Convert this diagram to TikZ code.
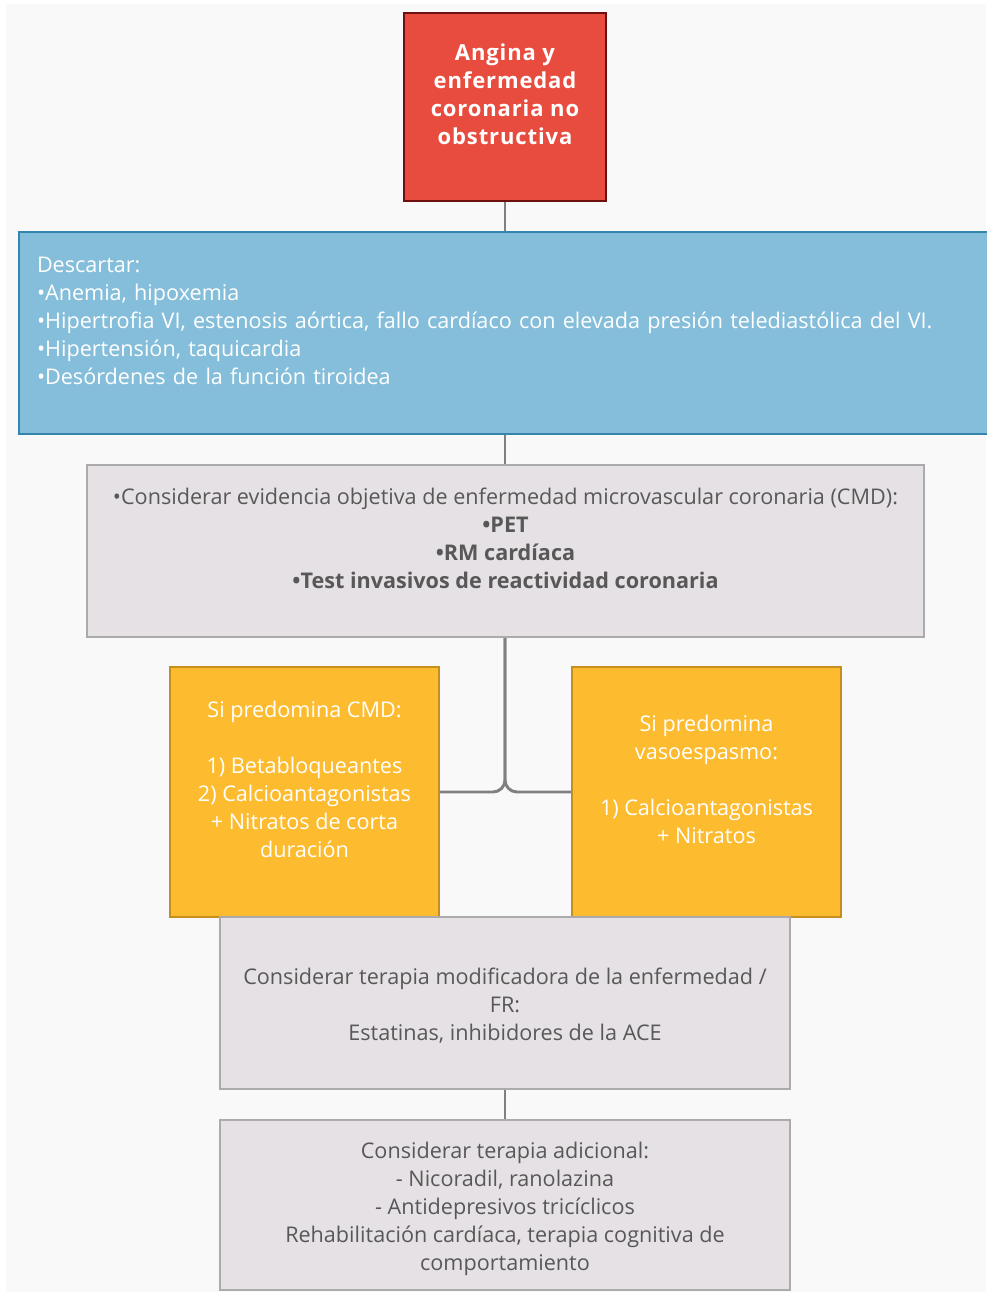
\documentclass[tikz,border=0pt]{standalone}
\usepackage{fontspec}
\setmainfont{Open Sans}
\newfontfamily\titlefont[LetterSpace=4]{Open Sans}
\newcommand\tpad{\rule{0pt}{21.5pt}}
\newcommand\bpad{\rule[-7pt]{0pt}{7pt}}
\definecolor{bgc}{HTML}{F9F9F9}
\definecolor{redf}{HTML}{E74C3E}
\definecolor{redd}{HTML}{6E1010}
\definecolor{bluef}{HTML}{85BEDA}
\definecolor{blued}{HTML}{3485AD}
\definecolor{yelf}{HTML}{FDBC30}
\definecolor{yeld}{HTML}{C48F1C}
\definecolor{grayf}{HTML}{E6E1E4}
\definecolor{grayd}{HTML}{ABABAB}
\definecolor{txtg}{HTML}{585858}
\definecolor{conc}{HTML}{808080}
\tikzset{
  box/.style={draw, rectangle, inner sep=0pt, font=\fontsize{16.2}{21}\selectfont, align=center},
  redbox/.style={box, fill=redf, draw=redd, line width=2.2pt, text=white, font=\titlefont\bfseries\fontsize{16.5}{21}\selectfont},
  bluebox/.style={box, fill=bluef, draw=blued, line width=2.2pt, text=white, align=left},
  graybox/.style={box, fill=grayf, draw=grayd, line width=1.6pt, text=txtg},
  yelbox/.style={box, fill=yelf, draw=yeld, line width=1.6pt, text=white},
  conn/.style={draw=conc, line width=2.2pt}
}
\begin{document}
\begin{tikzpicture}[x=0.75pt, y=-0.75pt]
\useasboundingbox (0,0) rectangle (986,1292);
\fill[white] (0,0) rectangle (986,1292);
\fill[bgc] (6,4) rectangle (986,1292);
\node[redbox, minimum width=151.5pt, minimum height=141pt] (red) at (505,107)
  {\tpad Angina y\\enfermedad\\coronaria no\\obstructiva\\\bpad};
\node[bluebox, minimum width=732pt, minimum height=151.5pt, text width=705pt] (blue) at (507,333)
  {\tpad Descartar:\\
   •Anemia, hipoxemia\\
   •Hipertrofia VI, estenosis aórtica, fallo cardíaco con elevada presión telediastólica del VI.\\
   •Hipertensión, taquicardia\\
   •Desórdenes de la función tiroidea\\\bpad};
\node[graybox, minimum width=627.75pt, minimum height=129pt] (cmd) at (505.5,551)
  {\tpad •Considerar evidencia objetiva de enfermedad microvascular coronaria (CMD):\\
   \textbf{•PET}\\
   \textbf{•RM cardíaca}\\
   \textbf{•Test invasivos de reactividad coronaria}\\\bpad};
\node[yelbox, minimum width=201.75pt, minimum height=187.5pt] (yl) at (304.5,792)
  {\tpad Si predomina CMD:\\\strut\\1) Betabloqueantes\\2) Calcioantagonistas\\+ Nitratos de corta\\duración\\\bpad};
\node[yelbox, minimum width=201.75pt, minimum height=187.5pt] (yr) at (706.5,792)
  {\tpad Si predomina\\vasoespasmo:\\\strut\\1) Calcioantagonistas\\+ Nitratos\\\bpad};
\node[graybox, minimum width=427.5pt, minimum height=129pt] (mod) at (505,1003)
  {\tpad Considerar terapia modificadora de la enfermedad /\\FR:\\Estatinas, inhibidores de la ACE\bpad};
\node[graybox, minimum width=427.5pt, minimum height=127.5pt] (add) at (505,1205)
  {\tpad Considerar terapia adicional:\\- Nicoradil, ranolazina\\- Antidepresivos tricíclicos\\Rehabilitación cardíaca, terapia cognitiva de\\comportamiento\bpad};
\draw[conn] (red.south) -- (blue.north -| red.south);
\draw[conn] (blue.south -| red.south) -- (cmd.north -| red.south);
\draw[conn, rounded corners=9pt] (cmd.south -| red.south) |- (yl.east);
\draw[conn, rounded corners=9pt] (cmd.south -| red.south) |- (yr.west);
\draw[conn] (mod.south) -- (add.north);
\end{tikzpicture}
\end{document}
